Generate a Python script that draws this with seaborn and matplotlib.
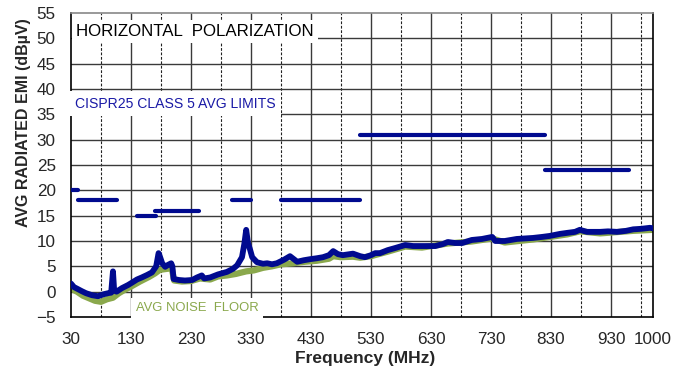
import matplotlib
matplotlib.use("Agg")
import matplotlib.pyplot as plt
import seaborn as sns
import numpy as np

# EMI scan, values (MHz, dBuV)
emi_freq = [30, 35, 40, 48, 55, 65, 75, 85, 92, 97, 100, 102, 106, 115, 125, 132, 140,
            148, 157, 165, 172, 176, 178, 182, 187, 192, 197, 199, 201, 210, 220, 232,
            240, 248, 252, 262, 275, 290, 300, 307, 315, 319, 322, 325, 328, 332, 340,
            350, 357, 365, 373, 385, 395, 407, 418, 428, 440, 450, 460, 467, 475, 483,
            500, 512, 520, 530, 537, 545, 558, 570, 587, 600, 615, 637, 650, 658, 670,
            682, 698, 715, 732, 737, 753, 773, 800, 815, 828, 845, 857, 870, 878, 890,
            912, 925, 940, 955, 967, 980, 995, 1000]
emi_avg = [1.6, 0.9, 0.6, 0.1, -0.3, -0.7, -0.9, -0.5, -0.3, -0.2, 4.0, 0.2, 0.0, 0.7,
           1.3, 1.8, 2.4, 2.8, 3.3, 3.8, 5.0, 7.6, 7.0, 5.6, 4.9, 5.3, 5.6, 5.0, 2.5, 2.3,
           2.2, 2.3, 2.8, 3.2, 2.6, 2.8, 3.4, 3.9, 4.5, 5.2, 6.8, 9.5, 12.2, 9.6, 8.5,
           6.8, 5.8, 5.5, 5.6, 5.4, 5.6, 6.3, 7.0, 5.9, 6.2, 6.4, 6.6, 6.8, 7.2, 8.0,
           7.4, 7.2, 7.5, 7.0, 6.8, 7.2, 7.6, 7.6, 8.2, 8.6, 9.2, 9.0, 9.0, 9.0, 9.4,
           9.8, 9.6, 9.6, 10.2, 10.4, 10.8, 10.0, 10.0, 10.4, 10.6, 10.8, 11.0, 11.4,
           11.6, 11.8, 12.2, 11.8, 11.8, 11.9, 11.8, 12.0, 12.3, 12.4, 12.6, 12.5]

floor_freq = [30, 40, 50, 60, 70, 80, 90, 100, 110, 120, 130, 145, 160, 170, 178, 190,
              198, 202, 215, 230, 245, 262, 275, 290, 305, 315, 322, 335, 350, 365, 380,
              400, 420, 440, 460, 467, 480, 500, 512, 530, 558, 587, 615, 658, 698, 732,
              753, 800, 857, 878, 912, 967, 1000]
floor_avg = [0.6, 0.0, -0.8, -1.3, -1.8, -2.0, -1.5, -1.2, -0.3, 0.4, 1.0, 2.0, 2.9,
             3.6, 4.3, 4.5, 4.6, 2.2, 2.0, 2.1, 2.6, 2.4, 3.0, 3.2, 3.5, 3.8, 4.0, 4.2,
             4.7, 5.0, 5.4, 5.6, 5.9, 6.1, 6.5, 7.0, 6.8, 6.9, 6.7, 7.0, 7.9, 8.9, 8.7,
             9.5, 9.9, 10.5, 9.7, 10.3, 11.3, 11.9, 11.5, 12.0, 12.2]

# CISPR25 class 5 average limit segments
lim_start = [30, 41, 140, 170, 298, 380, 512, 820]
lim_stop = [41, 107, 172, 244, 330, 512, 820, 960]
lim_level = [20, 18, 15, 16, 18, 18, 31, 24]

xticks = [30, 130, 230, 330, 430, 530, 630, 730, 830, 930, 1000]
yticks = list(range(-5, 60, 5))

navy = "#000a8f"
olive = "#8aa84c"

sns.set_style("white")
plt.rcParams["font.family"] = ["Liberation Sans", "DejaVu Sans"]

fig = plt.figure(figsize=(6.85, 3.71), dpi=100)
ax = fig.add_axes([0.1036, 0.1456, 0.8497, 0.8194])

# grid
for x in range(130, 1000, 100):
    ax.axvline(x, color="#3a3a3a", lw=1.0, zorder=0)
for x in range(80, 1000, 100):
    ax.axvline(x, color="#222222", lw=0.8, ls=(0, (2.5, 1.5)), zorder=0)
for y in yticks[1:-1]:
    ax.axhline(y, color="#3a3a3a", lw=1.0, zorder=0)

sns.lineplot(x=floor_freq, y=floor_avg, ax=ax, color=olive, lw=4.5, zorder=2)
sns.lineplot(x=emi_freq, y=emi_avg, ax=ax, color=navy, lw=4.2, zorder=3)
for a, b, lv in zip(lim_start, lim_stop, lim_level):
    sns.lineplot(x=[a, b], y=[lv, lv], ax=ax, color=navy, lw=3, zorder=3,
                 solid_capstyle="round")

ax.set_xlim(30, 1000)
ax.set_ylim(-5, 55)
ax.set_xticks(xticks)
ax.set_yticks(yticks)
ax.tick_params(axis="both", length=0, labelsize=12.3)
ax.tick_params(axis="y", pad=11)
ax.tick_params(axis="x", pad=11)
ax.set_xlabel("Frequency (MHz)", fontsize=12.5, fontweight="bold")
ax.set_ylabel("AVG RADIATED EMI (dBµV)", fontsize=11.5, fontweight="bold")
ax.xaxis.set_label_coords(0.505, -0.112)
ax.yaxis.set_label_coords(-0.068, 0.64)
for s in ax.spines.values():
    s.set_color("black")
    s.set_linewidth(1.2)
ax.spines["top"].set_color("#888888")

ax.text(38, 51.3, "HORIZONTAL  POLARIZATION", fontsize=12.2, color="black",
        ha="left", va="center", zorder=5,
        bbox=dict(facecolor="white", edgecolor="none", pad=3))
ax.text(36, 37.1, "CISPR25 CLASS 5 AVG LIMITS", fontsize=10.1, color="#1a1aa6",
        ha="left", va="center", zorder=5,
        bbox=dict(facecolor="white", edgecolor="none", pad=4))
ax.text(138, -3.3, "AVG NOISE  FLOOR", fontsize=9.4, color=olive,
        ha="left", va="center", zorder=5,
        bbox=dict(facecolor="white", edgecolor="none", pad=3.5))

fig.savefig("out.png", dpi=100)
